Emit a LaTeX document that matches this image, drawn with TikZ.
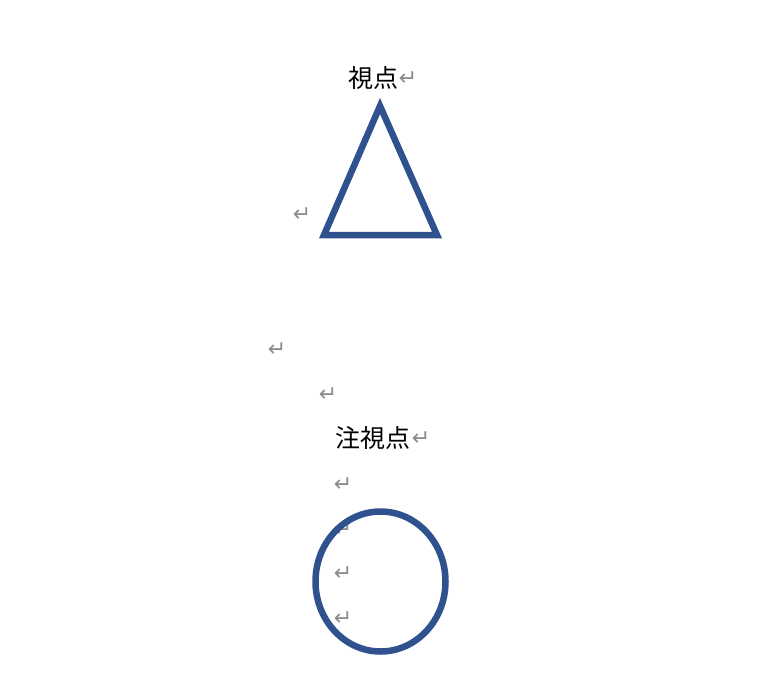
\documentclass[tikz,border=0pt]{standalone}
\usepackage{fontspec}
\newfontfamily\cjk{Noto Sans CJK JP}
\newfontfamily\symfont{DejaVu Sans}
\definecolor{shapeblue}{HTML}{2F528F}
\definecolor{markgrey}{HTML}{8C8C8C}
\tikzset{
  label/.style={inner sep=0pt, font=\cjk\fontsize{25}{25}\selectfont, text=black},
  retmark/.style={inner sep=0pt, font=\symfont\fontsize{22}{22}\selectfont, text=markgrey},
  shapeline/.style={draw=shapeblue, line width=6.5pt, line join=miter}
}
\begin{document}
\begin{tikzpicture}[x=1pt,y=-1pt]
\useasboundingbox (0,0) rectangle (776,685);
\fill[white] (0,0) rectangle (776,685);
% labels
\node[label] (viewpoint) at (373,78) {視点};
\node[label] (gaze) at (373,438) {注視点};
% paragraph marks
\node[retmark] (r1) at (408,79) {↵};
\node[retmark] (r2) at (302,215) {↵};
\node[retmark] (r3) at (277,350) {↵};
\node[retmark] (r4) at (328,395) {↵};
\node[retmark] (r5) at (421,439) {↵};
\node[retmark] (r6) at (343,485) {↵};
\node[retmark] (r7) at (343,530) {↵};
\node[retmark] (r8) at (343,574) {↵};
\node[retmark] (r9) at (343,619) {↵};
% triangle
\coordinate (apex) at (380,106);
\coordinate (bl) at (324,235);
\coordinate (br) at (437,235);
\draw[shapeline] (apex) -- (br) -- (bl) -- cycle;
% circle
\draw[shapeline] (380.5,581.5) ellipse [x radius=65, y radius=70];
\end{tikzpicture}
\end{document}
